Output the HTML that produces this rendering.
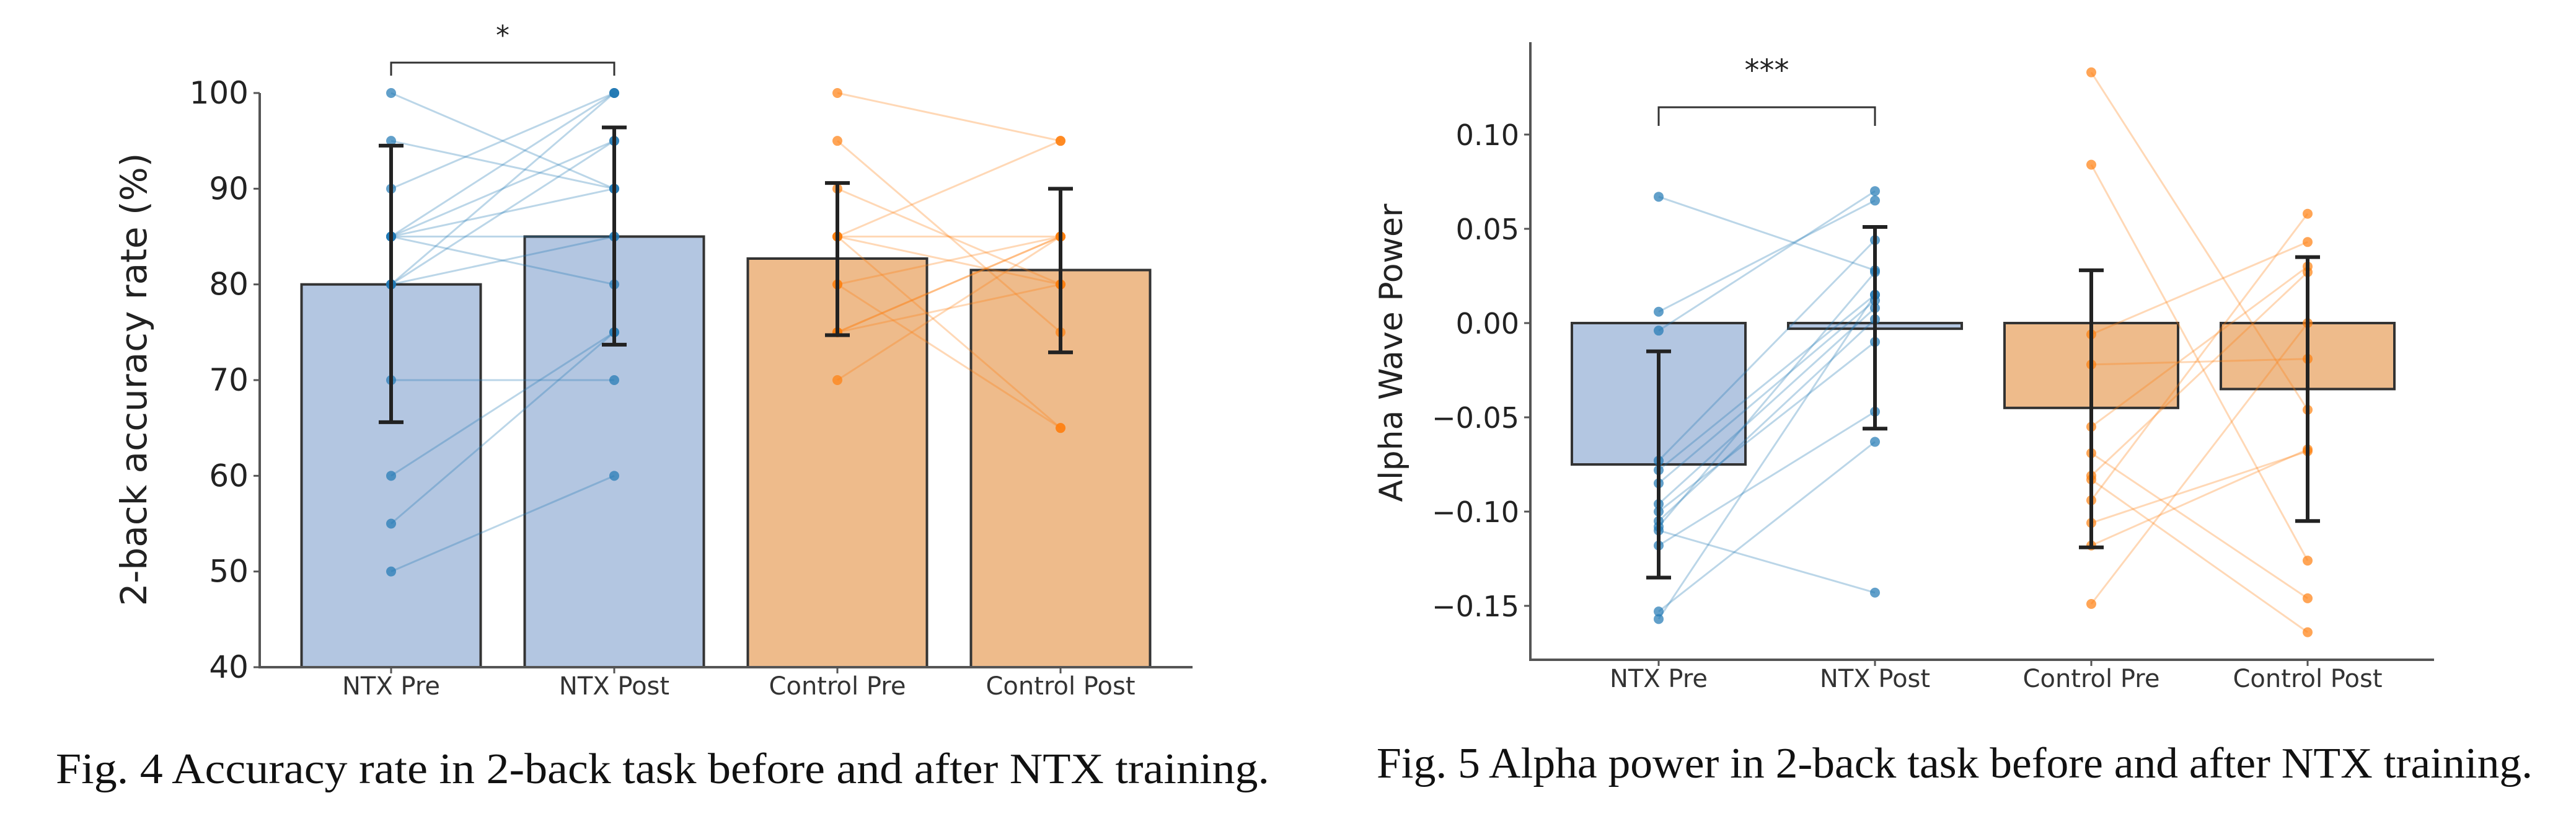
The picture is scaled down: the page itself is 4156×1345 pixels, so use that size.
<!DOCTYPE html>
<html><head><meta charset="utf-8"><style>
html,body{margin:0;padding:0;background:#fff;}
svg{display:block;}
</style></head><body>
<svg id="fig" width="4156" height="1345" viewBox="0 0 4156 1345" xmlns="http://www.w3.org/2000/svg" font-family="'DejaVu Sans','Liberation Sans',sans-serif"></svg>
<script>
// ---- Fig 4 data ----
const acc_categories = ["NTX Pre","NTX Post","Control Pre","Control Post"];
const acc_means = [80, 85, 82.7, 81.5];
const acc_err_lo = [65.6, 73.7, 74.7, 72.9];
const acc_err_hi = [94.5, 96.4, 90.6, 90.0];
const acc_yticks = [40,50,60,70,80,90,100];
const acc_ntx_pre  = [100,95,90,85,85,85,85,85,80,80,80,70,60,55,50];
const acc_ntx_post = [90,90,100,100,95,90,85,80,95,100,85,70,75,75,60];
const acc_ctl_pre  = [100,95,90,85,85,85,85,80,80,75,75,75,70];
const acc_ctl_post = [95,75,80,95,85,80,65,85,65,85,85,80,85];
// ---- Fig 5 data ----
const alp_categories = ["NTX Pre","NTX Post","Control Pre","Control Post"];
const alp_means = [-0.075, -0.003, -0.045, -0.035];
const alp_err_lo = [-0.135, -0.056, -0.119, -0.105];
const alp_err_hi = [-0.015, 0.051, 0.028, 0.035];
const alp_yticks = [-0.15,-0.10,-0.05,0.00,0.05,0.10];
const alp_ntx_pre  = [0.067,0.006,-0.004,-0.073,-0.078,-0.085,-0.096,-0.100,-0.105,-0.108,-0.110,-0.118,-0.153,-0.157];
const alp_ntx_post = [0.028,0.065,0.070,0.044,0.015,0.012,0.008,-0.010,0.002,0.027,-0.143,-0.047,-0.063,0.015];
const alp_ctl_pre  = [0.133,0.084,-0.006,-0.022,-0.055,-0.069,-0.081,-0.083,-0.094,-0.106,-0.118,-0.149];
const alp_ctl_post = [-0.046,-0.126,0.043,-0.019,0.030,-0.146,0.027,-0.164,0.058,-0.068,-0.067,0.000];

const NS="http://www.w3.org/2000/svg";
const svg=document.getElementById('fig');
function mk(tag,attrs,parent,text){const e=document.createElementNS(NS,tag);for(const k in attrs)e.setAttribute(k,attrs[k]);if(text!==undefined)e.textContent=text;(parent||svg).appendChild(e);return e;}

function chart(o){
  const g=mk('g',{});
  
  
  const y=v=>o.y0+(v-o.vmin)*(o.y1-o.y0)/(o.vmax-o.vmin);
  const x=i=>o.cx0+i*o.step;
  const base=o.base;
  o.means.forEach((m,i)=>{
    const top=Math.min(y(m),y(base)), h=Math.abs(y(m)-y(base));
    const r=mk('rect',{x:x(i)-o.bw/2,y:top,width:o.bw,height:Math.max(h,2),fill:i<2?'#b3c6e1':'#eebb8b',stroke:'#333',"stroke-width":4},g);
    
    
  });
  const groups=[[o.np,o.nq,0,'#1f77b4'],[o.cp,o.cq,2,'#ff7f0e']];
  groups.forEach(([p,q,i0,c])=>{
    p.forEach((v,k)=>{
      const l=mk('line',{x1:x(i0),y1:y(v),x2:x(i0+1),y2:y(q[k]),stroke:c,"stroke-opacity":0.3,"stroke-width":3},g);
      
      
    });
    [[p,i0],[q,i0+1]].forEach(([arr,i])=>arr.forEach(v=>{
      const d=mk('circle',{cx:x(i),cy:y(v),r:8,fill:c,"fill-opacity":0.7},g);
      
      
    }));
  });
  o.means.forEach((m,i)=>{
    const eg=mk('g',{stroke:'#222',"stroke-width":6},g);
    
    
    mk('line',{x1:x(i),x2:x(i),y1:y(o.lo[i]),y2:y(o.hi[i])},eg);
    mk('line',{x1:x(i)-20,x2:x(i)+20,y1:y(o.lo[i]),y2:y(o.lo[i])},eg);
    mk('line',{x1:x(i)-20,x2:x(i)+20,y1:y(o.hi[i]),y2:y(o.hi[i])},eg);
  });
  const ax=mk('path',{d:`M${o.ax},${o.axTop} V${o.y0} H${o.axRight}`,fill:'none',stroke:'#555',"stroke-width":4},g);
  
  
  o.ticks.forEach(t=>{
    mk('line',{x1:o.ax-10,x2:o.ax,y1:y(t),y2:y(t),stroke:'#555',"stroke-width":3},g);
    const tl=mk('text',{x:o.ax-18,y:y(t)+17,"text-anchor":'end',"font-size":o.tfs,fill:'#222'},g,o.fmt(t));
    
    
  });
  o.cats.forEach((c,i)=>{
    mk('line',{x1:x(i),x2:x(i),y1:o.y0,y2:o.y0+10,stroke:'#555',"stroke-width":3},g);
    const t=mk('text',{x:x(i),y:o.y0+44,"text-anchor":'middle',"font-size":40,fill:'#333'},g,c);
    
    
  });
  const yt=mk('text',{x:o.ytx,y:o.yty,"text-anchor":'middle',"font-size":o.yfs,fill:'#222',transform:`rotate(-90 ${o.ytx} ${o.yty})`},g,o.ytitle);
  
  
  const br=mk('path',{d:`M${x(0)},${o.brB} V${o.brT} H${x(1)} V${o.brB}`,fill:'none',stroke:'#333',"stroke-width":3},g);
  
  
  const st=mk('text',{x:(x(0)+x(1))/2,y:o.starY,"text-anchor":'middle',"font-size":o.starFs,fill:'#222'},g,o.star);
  
  
  const cp=mk('text',{x:o.capX,y:o.capY,"font-size":70,"font-family":"'Liberation Serif',serif",fill:'#111',textLength:o.capW,lengthAdjust:'spacingAndGlyphs'},g,o.caption);
  
  
}

chart({name:'accuracy-chart',cats:acc_categories,means:acc_means,lo:acc_err_lo,hi:acc_err_hi,ticks:acc_yticks,
  np:acc_ntx_pre,nq:acc_ntx_post,cp:acc_ctl_pre,cq:acc_ctl_post,
  vmin:40,vmax:100,y0:1076,y1:150,base:40,cx0:631,step:360,bw:289,
  ax:419,axTop:150,axRight:1924,tfs:50,fmt:t=>String(t),
  ytitle:'2-back accuracy rate (%)',ytx:236,yty:612,yfs:58,
  brT:101,brB:122,starY:72,starFs:44,star:'*',
  caption:'Fig. 4 Accuracy rate in 2-back task before and after NTX training.',capX:90,capY:1263,capW:1958});

chart({name:'alpha-power-chart',cats:alp_categories,means:alp_means,lo:alp_err_lo,hi:alp_err_hi,ticks:alp_yticks,
  np:alp_ntx_pre,nq:alp_ntx_post,cp:alp_ctl_pre,cq:alp_ctl_post,
  vmin:-0.1786,vmax:0.10,y0:1064,y1:217,base:0,cx0:2676,step:349,bw:280,
  ax:2469,axTop:68,axRight:3927,tfs:46,fmt:t=>(t<0?'\u2212':'')+Math.abs(t).toFixed(2),
  ytitle:'Alpha Wave Power',ytx:2262,yty:569,yfs:52,
  brT:173,brB:203,starY:130,starFs:48,star:'***',
  caption:'Fig. 5 Alpha power in 2-back task before and after NTX training.',capX:2221,capY:1254,capW:1865});
</script>
</body></html>
